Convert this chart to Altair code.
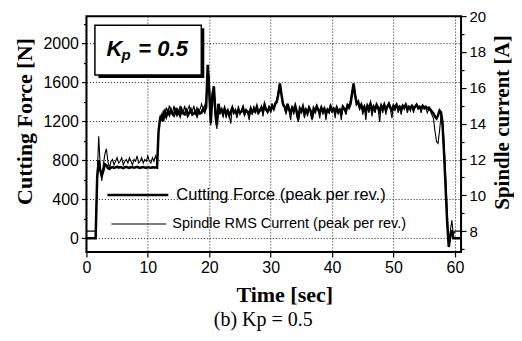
import altair as alt
import pandas as pd

# Cutting force [N], one sample every 0.25 s from 0 to 61 s
force = [
    0, 0, 0, 0, 0, 0, 0,
    620, 800, 700, 640, 690, 760, 750, 720, 710,
    725, 730, 722, 728, 735, 724, 730, 726, 720, 728, 732, 725, 722, 730, 727, 724,
    729, 733, 726, 721, 728, 731, 725, 722, 730, 726, 723, 728, 725, 727, 724,
    1100, 1230,
    1260, 1200, 1290, 1250, 1300, 1270, 1320, 1280, 1260, 1310,
    1270, 1300, 1260, 1320, 1280, 1270, 1310, 1260, 1290, 1320,
    1270, 1280, 1300, 1260, 1310, 1280, 1290, 1330, 1300, 1350,
    1780, 1500, 1180, 1450, 1560, 1300, 1160, 1380, 1300,
    1320, 1270, 1330, 1280, 1310, 1260, 1300, 1340, 1290, 1310,
    1270, 1320, 1290, 1300, 1340, 1280, 1310, 1300, 1270, 1330,
    1290, 1320, 1300, 1350, 1290, 1310, 1340, 1300, 1370, 1320,
    1300, 1340, 1310, 1360, 1330, 1380, 1400,
    1480, 1590, 1480, 1380,
    1350, 1300, 1380, 1320, 1290, 1340, 1310, 1360, 1300, 1220,
    1330, 1300, 1350, 1280, 1320, 1290, 1340, 1310, 1230, 1330,
    1300, 1350, 1320, 1290, 1340, 1300, 1330, 1280, 1320, 1300,
    1350, 1310, 1330, 1290, 1340, 1300, 1320, 1280, 1350, 1330,
    1300, 1360, 1340, 1380,
    1480, 1590, 1470, 1380,
    1400, 1340, 1370, 1320, 1350, 1300, 1360, 1330, 1380, 1310,
    1350, 1320, 1370, 1340, 1300, 1360, 1330, 1370, 1320, 1350,
    1380, 1340, 1310, 1360, 1340, 1370, 1330, 1350, 1320, 1360,
    1340, 1370, 1330, 1350, 1340, 1360, 1330, 1350, 1370, 1340,
    1350, 1330, 1360, 1340, 1350, 1330, 1340,
    1320, 1300, 1280, 1250, 1230, 1260, 1310, 1290, 1150, 850, 500, 150, -90,
    20, 80, 0, 0, 0, 0, 0, 0,
]

# Spindle RMS current [A], one sample every 0.25 s
current = [
    8.0, 8.0, 8.0, 8.0, 8.0, 8.0, 8.0,
    11.0, 13.3, 11.6, 10.8, 11.7, 12.3, 12.6, 11.9, 11.5,
    11.9,
    12.0, 11.7, 11.9, 12.1, 11.8, 11.9, 12.1, 11.7, 11.9, 12.0,
    11.8, 12.1, 11.9, 11.7, 12.0, 11.9, 12.2, 11.8, 11.9, 12.1,
    11.8, 12.0, 11.9, 12.2, 11.9, 11.8, 12.1, 11.9, 12.2, 11.9,
    13.6, 14.4,
    14.2, 14.7, 14.5, 14.9, 14.6, 15.0, 14.7, 14.5, 15.0, 14.6,
    14.9, 14.5, 15.0, 14.7, 14.6, 15.0, 14.5, 14.8, 15.0, 14.6,
    14.7, 15.0, 14.5, 14.9, 14.7, 14.8, 15.1, 14.8, 15.0, 15.3,
    17.0, 16.6, 13.9, 15.8, 15.4, 14.2, 13.7, 15.0, 14.5,
    14.9, 14.4, 14.9, 14.3, 14.8, 14.5, 14.0, 14.9, 14.6, 14.8,
    14.3, 15.0, 14.5, 14.7, 15.0, 14.4, 14.8, 14.6, 14.2, 14.9,
    14.5, 15.0, 14.6, 15.0, 14.5, 14.8, 15.0, 14.4, 15.1, 14.8,
    14.6, 15.0, 14.7, 15.1, 14.8, 15.2, 15.3,
    15.8, 16.2, 15.6, 15.0,
    15.0, 14.5, 15.1, 14.7, 14.2, 14.9, 14.5, 15.0, 14.4, 14.1,
    14.9, 14.6, 15.0, 14.3, 14.8, 14.4, 15.0, 14.7, 14.2, 14.9,
    14.6, 15.1, 14.7, 14.3, 15.0, 14.5, 14.9, 14.2, 14.8, 14.6,
    15.1, 14.6, 14.9, 14.3, 15.0, 14.5, 14.8, 14.2, 15.0, 14.8,
    14.5, 15.1, 15.0, 15.3,
    15.8, 16.2, 15.7, 15.2,
    15.2, 14.8, 15.0, 14.5, 14.9, 14.2, 15.0, 14.6, 15.1, 14.4,
    14.9, 14.6, 15.1, 14.8, 14.1, 15.0, 14.6, 15.1, 14.5, 14.9,
    15.1, 14.8, 14.3, 15.0, 14.7, 15.1, 14.6, 14.9, 14.5, 15.0,
    14.8, 15.1, 14.6, 14.9, 14.7, 15.0, 14.6, 14.9, 15.1, 14.8,
    14.9, 14.6, 15.0, 14.8, 14.9, 14.6, 14.8,
    14.7, 14.5, 14.3, 13.6, 13.0, 12.9, 13.6, 14.5, 14.3, 12.8, 11.0, 9.0, 7.3,
    8.0, 8.6, 7.8, 8.0, 8.0, 8.0, 8.0, 8.0,
]

x_ticks = list(range(0, 61, 5))
left_ticks = list(range(0, 2201, 200))
right_ticks = list(range(7, 21))
legend_labels = ["Cutting Force (peak per rev.)", "Spindle RMS Current (peak per rev.)"]
x_title = "Time [sec]"
left_title = "Cutting Force [N]"
right_title = "Spindle current [A]"
caption = "(b) Kp = 0.5"

SANS = "Liberation Sans"
SERIF = "Liberation Serif"
W, H = 375, 236

df_f = pd.DataFrame({"t": [i * 0.25 for i in range(len(force))], "force": force})
df_c = pd.DataFrame({"t": [i * 0.25 for i in range(len(current))], "current": current})
one = pd.DataFrame({"k": [0]})

x_enc = alt.X(
    "t:Q",
    scale=alt.Scale(domain=[0, 61], nice=False, zero=False),
    axis=alt.Axis(
        values=x_ticks,
        format="d",
        labelExpr="datum.value % 10 === 0 ? datum.label : ''",
        labelFont=SANS, labelFontSize=16, labelColor="black", labelPadding=3,
        labelFlush=False, labelOverlap=False,
        tickColor="black", tickWidth=1.2,
        tickSize={"condition": {"test": "datum.value % 10 === 0", "value": 5}, "value": 3},
        grid=True, gridColor="black", gridDash=[1, 2], gridWidth=1,
        gridOpacity={"condition": {"test": "datum.value % 10 === 0", "value": 0.9}, "value": 0},
        domain=False,
        title=x_title, titleFont=SERIF, titleFontSize=22, titleFontWeight="bold",
        titleColor="black", titleX=198, titleY=43, titleAlign="center",
        titleBaseline="middle",
    ),
)

force_line = alt.Chart(df_f).mark_line(color="black", strokeWidth=2.5).encode(
    x=x_enc,
    y=alt.Y(
        "force:Q",
        scale=alt.Scale(domain=[-141, 2280], nice=False, zero=False),
        axis=alt.Axis(
            orient="left", values=left_ticks, format="d",
            labelExpr="datum.value % 400 === 0 ? datum.label : ''",
            labelFont=SANS, labelFontSize=16, labelColor="black", labelPadding=3,
            labelFlush=False, labelOverlap=False,
            tickColor="black", tickWidth=1.2,
            tickSize={"condition": {"test": "datum.value % 400 === 0", "value": 5}, "value": 3},
            grid=True, gridColor="black", gridDash=[1, 2], gridWidth=1,
            gridOpacity={"condition": {"test": "datum.value % 400 === 0", "value": 0.9}, "value": 0},
            domain=False,
            title=left_title, titleFont=SERIF, titleFontSize=22, titleFontWeight="bold",
            titleColor="black", titleAngle=270, titleX=-62, titleY=105,
            titleAlign="center", titleBaseline="middle",
        ),
    ),
)

current_line = alt.Chart(df_c).mark_line(color="black", strokeWidth=1.1).encode(
    x=alt.X("t:Q"),
    y=alt.Y(
        "current:Q",
        scale=alt.Scale(domain=[6.84, 20], nice=False, zero=False),
        axis=alt.Axis(
            orient="right", values=right_ticks, format="d",
            labelExpr="datum.value % 2 === 0 ? datum.label : ''",
            labelFont=SANS, labelFontSize=15, labelColor="black", labelPadding=3,
            labelFlush=False, labelOverlap=False,
            tickColor="black", tickWidth=1.2,
            tickSize={"condition": {"test": "datum.value % 2 === 0", "value": 5}, "value": 3},
            grid=False, domain=False,
            title=right_title, titleFont=SERIF, titleFontSize=21, titleFontWeight="bold",
            titleColor="black", titleAngle=270, titleX=41, titleY=106,
            titleAlign="center", titleBaseline="middle",
        ),
    ),
)

# legend (inside the plot)
leg_thick = alt.Chart(one).mark_rule(color="black", strokeWidth=2.6).encode(
    x=alt.value(21), x2=alt.value(82), y=alt.value(179)
)
leg_thin = alt.Chart(one).mark_rule(color="black", strokeWidth=1.1).encode(
    x=alt.value(25), x2=alt.value(80), y=alt.value(208)
)
leg_text1 = alt.Chart(one).mark_text(
    align="left", baseline="middle", font=SANS, fontSize=16.5, color="black"
).encode(x=alt.value(90), y=alt.value(179), text=alt.value(legend_labels[0]))
leg_text2 = alt.Chart(one).mark_text(
    align="left", baseline="middle", font=SANS, fontSize=14.5, color="black"
).encode(x=alt.value(86), y=alt.value(208), text=alt.value(legend_labels[1]))

# Kp box with shadow
shadow = alt.Chart(one).mark_rect(color="black").encode(
    x=alt.value(12), x2=alt.value(118), y=alt.value(12), y2=alt.value(62)
)
box = alt.Chart(one).mark_rect(fill="white", stroke="black", strokeWidth=1.5).encode(
    x=alt.value(8.5), x2=alt.value(115), y=alt.value(9), y2=alt.value(59)
)
kp_k = alt.Chart(one).mark_text(
    align="left", baseline="alphabetic", font=SANS, fontSize=22,
    fontWeight="bold", fontStyle="italic", color="black"
).encode(x=alt.value(20), y=alt.value(40), text=alt.value("K"))
kp_p = alt.Chart(one).mark_text(
    align="left", baseline="alphabetic", font=SANS, fontSize=15,
    fontWeight="bold", fontStyle="italic", color="black"
).encode(x=alt.value(35), y=alt.value(44), text=alt.value("p"))
kp_val = alt.Chart(one).mark_text(
    align="left", baseline="alphabetic", font=SANS, fontSize=22,
    fontWeight="bold", fontStyle="italic", color="black"
).encode(x=alt.value(52), y=alt.value(40), text=alt.value("= 0.5"))

cap = alt.Chart(one).mark_text(
    align="center", baseline="middle", font=SERIF, fontSize=20, color="black"
).encode(x=alt.value(177), y=alt.value(304), text=alt.value(caption))

chart = (
    alt.layer(
        force_line, current_line,
        leg_thick, leg_thin, leg_text1, leg_text2,
        shadow, box, kp_k, kp_p, kp_val, cap,
    )
    .resolve_scale(y="independent")
    .properties(
        width=W, height=H,
        autosize=alt.AutoSizeParams(type="none"),
        padding={"left": 78.5, "top": 8, "right": 53, "bottom": 81},
        background="white",
    )
    .configure_view(stroke="black", strokeWidth=2)
)

chart.save("out.html", embed_options={"renderer": "svg", "actions": False})
